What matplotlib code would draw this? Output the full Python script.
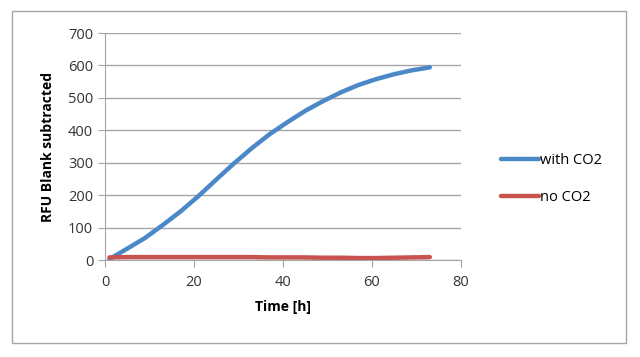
import matplotlib
matplotlib.use('Agg')
import matplotlib.pyplot as plt
from matplotlib.patches import Rectangle

# time points [h]
time_h = [1, 5, 9, 13, 17, 21, 25, 29, 33, 37, 41, 45, 49, 53, 57, 61, 65, 69, 73]
with_co2 = [3, 35, 68, 108, 150, 197, 248, 298, 345, 388, 425, 460, 490, 517, 540, 558, 573, 585, 594]
no_co2 = [8, 9, 9, 9, 9, 9, 9, 9, 9, 8, 8, 8, 7, 7, 6, 6, 7, 8, 9]

series_names = ['with CO2', 'no CO2']
series_colors = ['#4A88C8', '#C8524D']

plt.rcParams['font.family'] = ['Open Sans', 'DejaVu Sans']

fig = plt.figure(figsize=(6.4, 3.57), dpi=100)
fig.patch.set_facecolor('white')

# outer chart border
fig.patches.append(Rectangle((12 / 640, 1 - 343 / 357), 614 / 640, 332 / 357,
                             transform=fig.transFigure, fill=False,
                             edgecolor='#A6A6A6', linewidth=1))

ax = fig.add_axes([105 / 640, 97 / 357, 356 / 640, 227 / 357])
ax.plot(time_h, with_co2, color=series_colors[0], linewidth=3.2, label=series_names[0],
        solid_capstyle='round')
ax.plot(time_h, no_co2, color=series_colors[1], linewidth=3.2, label=series_names[1],
        solid_capstyle='round')

ax.set_xlim(0, 80)
ax.set_ylim(0, 700)
ax.set_xticks(range(0, 81, 20))
ax.set_yticks(range(0, 701, 100))
ax.grid(axis='y', color='#A6A6A6', linewidth=1)
ax.set_axisbelow(True)
for side in ['top', 'right']:
    ax.spines[side].set_visible(False)
for side in ['left', 'bottom']:
    ax.spines[side].set_color('#A6A6A6')
ax.tick_params(axis='both', colors='#A6A6A6', labelcolor='#333333', labelsize=10.5,
               length=5, direction='out')
ax.tick_params(axis='x', pad=6)

ax.set_xlabel('Time [h]', fontweight='bold', fontsize=10, labelpad=7)
ax.set_ylabel('RFU Blank subtracted', fontweight='bold', fontsize=10, labelpad=9)

ax.legend(loc='center left', bbox_to_anchor=(1.075, 0.355), frameon=False,
          fontsize=10.5, handlelength=2.6, handletextpad=0.1, labelspacing=1.5)

fig.savefig('out.png', dpi=100)
